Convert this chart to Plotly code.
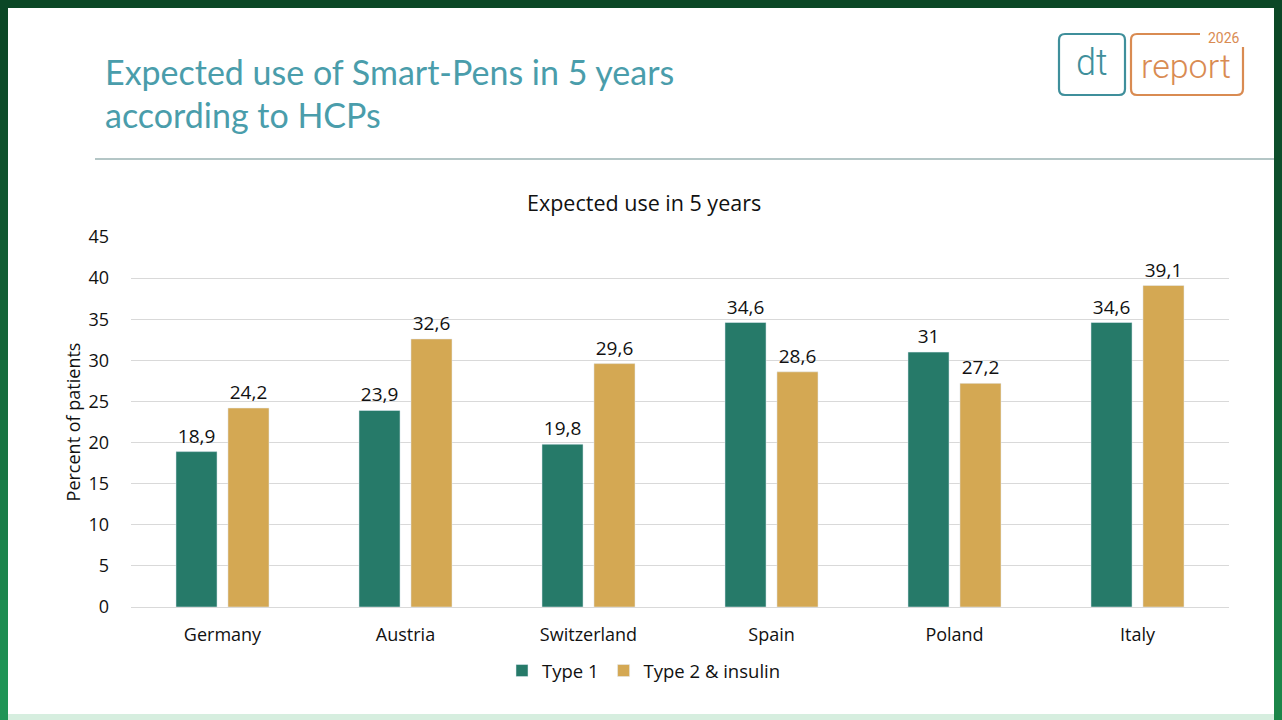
import plotly.graph_objects as go

countries = ["Germany", "Austria", "Switzerland", "Spain", "Poland", "Italy"]
type1 = [18.9, 23.9, 19.8, 34.6, 31.0, 34.6]
type2_insulin = [24.2, 32.6, 29.6, 28.6, 27.2, 39.1]
y_ticks = [0, 5, 10, 15, 20, 25, 30, 35, 40, 45]

W, H = 1282, 720
L, R, T, B = 131, 1229, 237, 607

def px(x):
    return (x - L) / (R - L)

def py(y):
    return (B - y) / (B - T)

def fmt(v):
    return f"{v:g}".replace(".", ",")

TEAL = "#267A69"
GOLD = "#D4A853"
FONT = "Open Sans"

fig = go.Figure()
fig.add_bar(x=countries, y=type1, name="Type 1", marker_color=TEAL,
            text=[fmt(v) for v in type1], textposition="outside",
            textfont=dict(size=19, color="#111111", family=FONT), cliponaxis=False)
fig.add_bar(x=countries, y=type2_insulin, name="Type 2 & insulin", marker_color=GOLD,
            text=[fmt(v) for v in type2_insulin], textposition="outside",
            textfont=dict(size=19, color="#111111", family=FONT), cliponaxis=False)

shapes = []
shapes.append(dict(type="rect", xref="paper", yref="paper", x0=px(0), x1=px(W), y0=py(H), y1=py(0),
                   fillcolor="#0B4726", line_width=0, layer="below"))
n = 12
left_cols = ["#0B4726", "#0C4B29", "#0E512C", "#0F5730", "#115E34", "#136538", "#156D3D", "#177542",
             "#197D47", "#1B854C", "#1D8D51", "#1F9556"]
right_cols = ["#0B4726", "#0C4A28", "#0D4E2B", "#0E532E", "#105931", "#115F34", "#136537", "#146B3A",
              "#16723E", "#177841", "#197E45", "#1B8548"]
for i in range(n):
    y0 = i * H / n
    y1 = (i + 1) * H / n + 1
    shapes.append(dict(type="rect", xref="paper", yref="paper", x0=px(0), x1=px(8),
                       y0=py(y1), y1=py(y0), fillcolor=left_cols[i], line_width=0, layer="below"))
    shapes.append(dict(type="rect", xref="paper", yref="paper", x0=px(1274), x1=px(W),
                       y0=py(y1), y1=py(y0), fillcolor=right_cols[i], line_width=0, layer="below"))
shapes.append(dict(type="rect", xref="paper", yref="paper", x0=px(8), x1=px(1274), y0=py(H), y1=py(714),
                   fillcolor="#D6EEDF", line_width=0, layer="below"))
shapes.append(dict(type="rect", xref="paper", yref="paper", x0=px(8), x1=px(1274), y0=py(714), y1=py(8),
                   fillcolor="#FFFFFF", line_width=0, layer="below"))
shapes.append(dict(type="line", xref="paper", yref="paper", x0=px(95), x1=px(1274), y0=py(159), y1=py(159),
                   line=dict(color="#9BB3B3", width=1.5), layer="below"))

def rrect(x0, y0, x1, y1, r):
    return (f"M{px(x0+r)},{py(y0)} L{px(x1-r)},{py(y0)} Q{px(x1)},{py(y0)} {px(x1)},{py(y0+r)} "
            f"L{px(x1)},{py(y1-r)} Q{px(x1)},{py(y1)} {px(x1-r)},{py(y1)} "
            f"L{px(x0+r)},{py(y1)} Q{px(x0)},{py(y1)} {px(x0)},{py(y1-r)} "
            f"L{px(x0)},{py(y0+r)} Q{px(x0)},{py(y0)} {px(x0+r)},{py(y0)} Z")

shapes.append(dict(type="path", xref="paper", yref="paper", path=rrect(1059, 34, 1125, 95, 6),
                   line=dict(color="#3F8F9B", width=2.2), layer="above"))
x0, y0, x1, y1, r = 1131, 34, 1243, 95, 6
path_r = (f"M{px(1200)},{py(y0)} L{px(x0+r)},{py(y0)} Q{px(x0)},{py(y0)} {px(x0)},{py(y0+r)} "
          f"L{px(x0)},{py(y1-r)} Q{px(x0)},{py(y1)} {px(x0+r)},{py(y1)} "
          f"L{px(x1-r)},{py(y1)} Q{px(x1)},{py(y1)} {px(x1)},{py(y1-r)} L{px(x1)},{py(47)}")
shapes.append(dict(type="path", xref="paper", yref="paper", path=path_r,
                   line=dict(color="#D98B52", width=2.2), layer="above"))

TITLE_FONT = dict(family="Lato", size=34, color="#4A9DAB")
annotations = [
    dict(text="Expected use of Smart-Pens in 5 years", x=px(103), y=py(72),
         xref="paper", yref="paper", xanchor="left", yanchor="middle", showarrow=False, font=TITLE_FONT),
    dict(text="according to HCPs", x=px(103), y=py(114),
         xref="paper", yref="paper", xanchor="left", yanchor="middle", showarrow=False, font=TITLE_FONT),
    dict(text="Expected use in 5 years", x=px(644), y=py(202), xref="paper", yref="paper",
         xanchor="center", yanchor="middle", showarrow=False,
         font=dict(family=FONT, size=21.5, color="#111111")),
    dict(text="dt", x=px(1092), y=py(63), xref="paper", yref="paper", xanchor="center", yanchor="middle",
         showarrow=False, font=dict(family="Roboto", size=36, color="#3F8F9B", weight=300)),
    dict(text="report", x=px(1186), y=py(66), xref="paper", yref="paper", xanchor="center", yanchor="middle",
         showarrow=False, font=dict(family="Roboto", size=34, color="#D98B52", weight=300)),
    dict(text="2026", x=px(1224), y=py(38), xref="paper", yref="paper", xanchor="center", yanchor="middle",
         showarrow=False, font=dict(family="Roboto", size=14, color="#D98B52")),
]

fig.update_layout(
    width=W, height=H,
    margin=dict(l=L, r=W - R, t=T, b=H - B, pad=0),
    paper_bgcolor="#FFFFFF", plot_bgcolor="rgba(0,0,0,0)",
    barmode="group", bargap=0.432, bargroupgap=0.21,
    font=dict(family=FONT, size=18, color="#111111"),
    shapes=shapes, annotations=annotations,
    showlegend=True,
    legend=dict(orientation="h", x=px(644), xanchor="center", y=py(671), yanchor="middle",
                font=dict(family=FONT, size=18.5, color="#111111"), bgcolor="rgba(0,0,0,0)",
                itemwidth=30, tracegroupgap=0),
    xaxis=dict(range=[-0.5, 5.5], showgrid=False, zeroline=False, showline=False, ticks="",
               ticklabelstandoff=15, tickfont=dict(size=18, family=FONT, color="#111111")),
    yaxis=dict(range=[0, 45], tickvals=y_ticks, showgrid=True, gridcolor="#D9D9D9", gridwidth=1,
               zeroline=True, zerolinecolor="#D9D9D9", zerolinewidth=1, showline=False, ticks="",
               ticklabelstandoff=21, tickfont=dict(size=18, family=FONT, color="#111111"),
               title=dict(text="Percent of patients", standoff=3, font=dict(size=18, family=FONT))),
)

fig.write_html("out.html", config={"displayModeBar": False},
               post_script="document.body.style.margin='0';document.body.style.overflow='hidden';")
